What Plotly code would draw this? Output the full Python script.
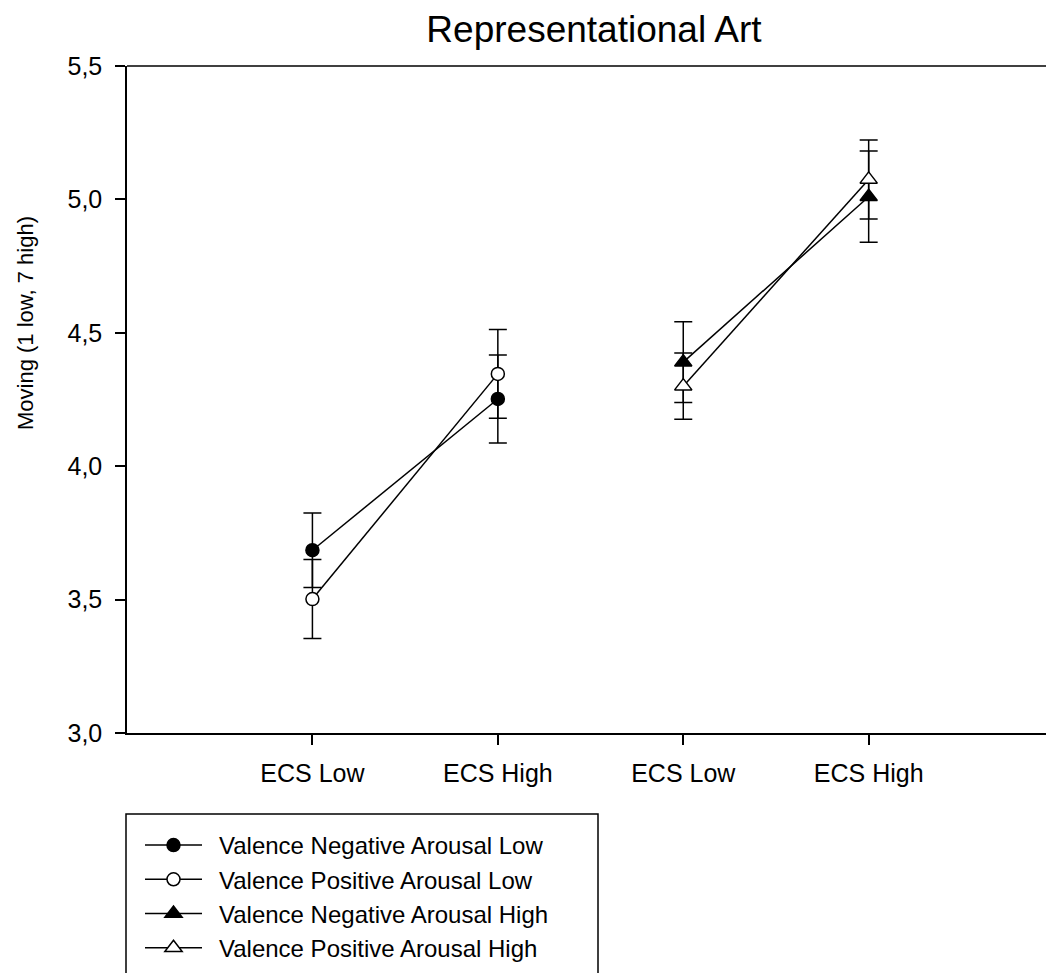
import plotly.graph_objects as go

# ---- data ----
categories = ["ECS Low", "ECS High", "ECS Low", "ECS High"]
cat_pos = [1, 2, 3, 4]

series_names = [
    "Valence Negative Arousal Low",
    "Valence Positive Arousal Low",
    "Valence Negative Arousal High",
    "Valence Positive Arousal High",
]
x_low = [1, 2]
x_high = [3, 4]

neg_low_mean = [3.685, 4.252]
neg_low_se = [0.140, 0.165]
pos_low_mean = [3.502, 4.346]
pos_low_se = [0.148, 0.166]
neg_high_mean = [4.390, 5.010]
neg_high_se = [0.151, 0.171]
pos_high_mean = [4.300, 5.075]
pos_high_se = [0.124, 0.148]

y_ticks = [3.0, 3.5, 4.0, 4.5, 5.0, 5.5]

FONT = "Arial, Liberation Sans, sans-serif"
W, H = 1046, 973
L, T, R, B = 127, 66, 0, 240

fig = go.Figure()

specs = [
    (x_low, neg_low_mean, neg_low_se, "circle", "black"),
    (x_low, pos_low_mean, pos_low_se, "circle", "white"),
    (x_high, neg_high_mean, neg_high_se, "triangle-up", "black"),
    (x_high, pos_high_mean, pos_high_se, "triangle-up", "white"),
]
for name, (xs, ys, es, sym, fill) in zip(series_names, specs):
    fig.add_trace(go.Scatter(
        x=xs, y=ys, name="\u2002" + name, mode="lines+markers",
        line=dict(color="black", width=1.5),
        marker=dict(symbol=sym, size=13 if sym == "circle" else 15, color=fill,
                    line=dict(color="black", width=1.5)),
        error_y=dict(type="data", array=es, visible=True, color="black",
                     thickness=1.5, width=9),
        cliponaxis=False,
    ))

plot_w = W - L - R
plot_h = H - T - B

fig.update_layout(
    width=W, height=H,
    margin=dict(l=L, r=R, t=T, b=B, pad=0),
    paper_bgcolor="white", plot_bgcolor="white",
    separators=", ",
    font=dict(family=FONT, color="black", size=22),
    title=dict(text="Representational Art", x=(594 - L) / plot_w, xref="paper",
               xanchor="center", y=1 - 29 / H, yanchor="middle",
               font=dict(size=37, family=FONT, color="black")),
    showlegend=True,
    legend=dict(
        x=(140 - L) / plot_w, xanchor="left",
        y=(H - B - 823) / plot_h, yanchor="top",
        bgcolor="rgba(0,0,0,0)", borderwidth=0,
        font=dict(size=24, family=FONT, color="black"),
        itemwidth=57, tracegroupgap=0,
    ),
    xaxis=dict(
        range=[0, (W - 126.1) / 185.6], tickmode="array",
        tickvals=cat_pos, ticktext=categories,
        showgrid=False, zeroline=False,
        showline=True, linecolor="black", linewidth=1.5, mirror=False,
        ticks="outside", ticklen=10, tickwidth=1.5, tickcolor="black",
        tickfont=dict(size=25, family=FONT, color="black"),
        ticklabelstandoff=7,
    ),
    yaxis=dict(
        range=[3.0, 5.5], tickmode="array", tickvals=y_ticks,
        tickformat=".1f",
        showgrid=False, zeroline=False,
        showline=True, linecolor="black", linewidth=1.5,
        ticks="outside", ticklen=10, tickwidth=1.5, tickcolor="black",
        tickfont=dict(size=25, family=FONT, color="black"),
        ticklabelstandoff=8,
    ),
    annotations=[dict(
        text="Moving (1 low, 7 high)", textangle=-90,
        xref="paper", yref="paper",
        x=(25 - L) / plot_w, y=(H - B - 323) / plot_h,
        xanchor="center", yanchor="middle", showarrow=False,
        font=dict(size=22, family=FONT, color="black"),
    )],
    shapes=[
        dict(type="line", xref="paper", yref="paper", x0=0, x1=1.05, y0=1, y1=1,
             line=dict(color="black", width=1.5), layer="above"),
        dict(type="rect", xref="paper", yref="paper",
             x0=(126 - L) / plot_w, x1=(598 - L) / plot_w,
             y0=(H - B - 990) / plot_h, y1=(H - B - 814) / plot_h,
             line=dict(color="black", width=1.5), fillcolor="rgba(0,0,0,0)",
             layer="above"),
    ],
)

fig.write_html(
    "out.html",
    config={"displayModeBar": False},
    post_script="document.body.style.margin='0px';document.body.style.overflow='hidden';",
)
